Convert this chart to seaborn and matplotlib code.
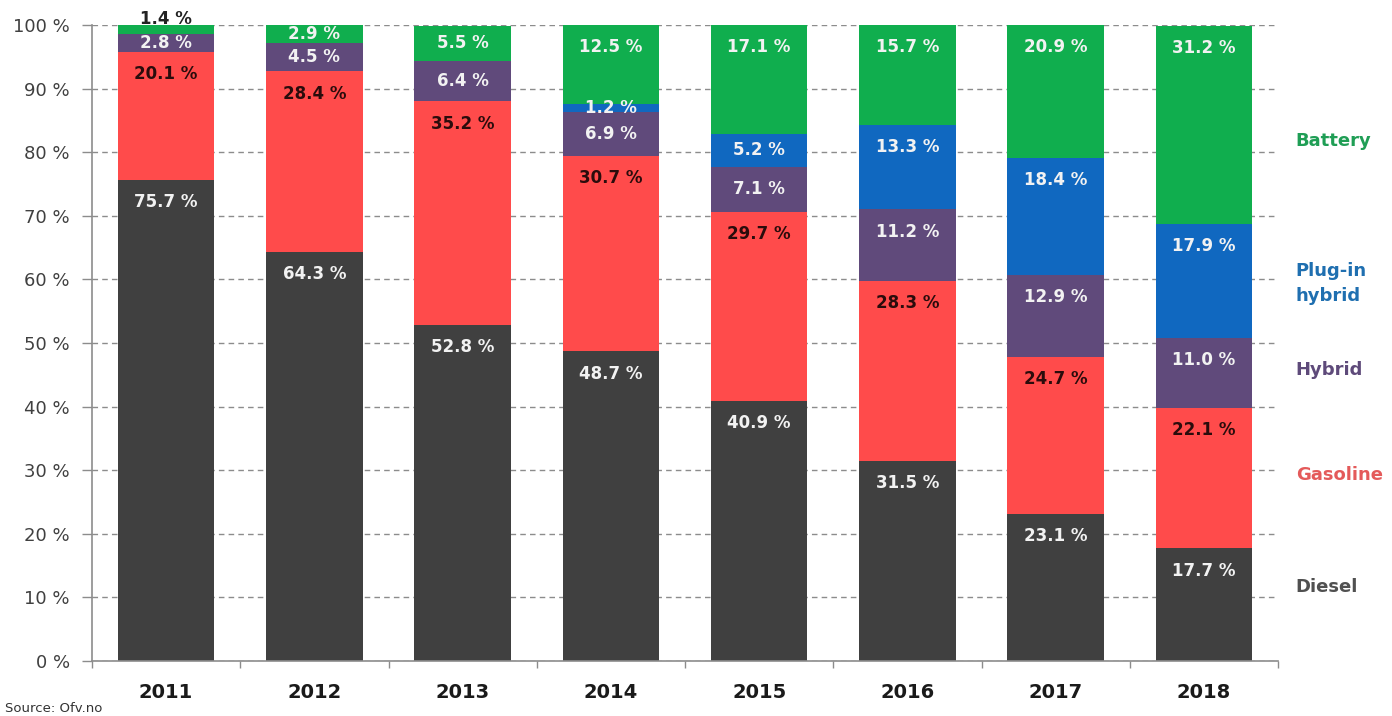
import numpy as np
import pandas as pd
import matplotlib
matplotlib.use('Agg')
import matplotlib.pyplot as plt
import seaborn as sns

# DATOS
years = ['2011', '2012', '2013', '2014', '2015', '2016', '2017', '2018']
diesel = [75.7, 64.3, 52.8, 48.7, 40.9, 31.5, 23.1, 17.7]
gasoline = [20.1, 28.4, 35.2, 30.7, 29.7, 28.3, 24.7, 22.1]
hybrid = [2.8, 4.5, 6.4, 6.9, 7.1, 11.2, 12.9, 11.0]
plugin = [0.0, 0.0, 0.0, 1.2, 5.2, 13.3, 18.4, 17.9]
battery = [1.4, 2.9, 5.5, 12.5, 17.1, 15.7, 20.9, 31.2]
series_names = ['Diesel', 'Gasoline', 'Hybrid', 'Plug-in\nhybrid', 'Battery']
y_ticks = list(range(0, 101, 10))

# ESTILO
bar_colors = ['#404040', '#ff4b4b', '#604a7b', '#1068c0', '#10ae4e']
label_colors = ['#f2f2f2', '#2a0c0c', '#f2f2f2', '#f2f2f2', '#f2f2f2']
legend_colors = ['#505050', '#e45a5a', '#5e4a7a', '#1f6fb0', '#1f9e55']
legend_y = [11.6, 29.2, 45.8, 59.4, 81.8]

sns.set_theme(style='white')
plt.rcParams['font.family'] = ['DejaVu Sans']

fig = plt.figure(figsize=(13.92, 7.16), dpi=100)
ax = fig.add_axes([92 / 1392, 55 / 716, (1278 - 92) / 1392, 636 / 716])

series = [diesel, gasoline, hybrid, plugin, battery]
bottom = np.zeros(len(years))
for vals, col, lcol in zip(series, bar_colors, label_colors):
    df = pd.DataFrame({'year': years, 'share': vals})
    sns.barplot(data=df, x='year', y='share', bottom=bottom, color=col,
                saturation=1, width=0.65, errorbar=None, ax=ax, zorder=2,
                linewidth=0, edgecolor=col)
    for i, v in enumerate(vals):
        if v <= 0:
            continue
        top = bottom[i] + v
        if v < 2 and top >= 99:
            ty, tc = 100.9, '#222222'
        else:
            ty, tc = top - min(3.5, v / 2), lcol
        ax.text(i, ty, f'{v:.1f} %', ha='center', va='center', fontsize=12,
                fontweight='bold', color=tc, zorder=4, clip_on=False)
    bottom = bottom + np.array(vals)

# leyenda a la derecha
for name, c, yy in zip(series_names, legend_colors, legend_y):
    ax.text(7.62, yy, name, ha='left', va='center', fontsize=13,
            fontweight='bold', color=c, clip_on=False, linespacing=1.5)

ax.set_xlim(-0.5, len(years) - 0.5)
ax.set_ylim(0, 100)
ax.set_yticks(y_ticks)
ax.set_yticklabels([f'{t} %' for t in y_ticks], fontsize=13, color='#404040')
ax.set_xlabel('')
ax.set_ylabel('')
ax.set_axisbelow(True)
ax.yaxis.grid(True, linestyle=(0, (4, 3)), color='#8c8c8c', lw=1)
ax.xaxis.grid(False)

ax.set_xticks(range(len(years)))
ax.set_xticklabels(years, fontsize=14, fontweight='bold', color='#1a1a1a')
ax.set_xticks(np.arange(-0.5, len(years), 1.0), minor=True)
ax.tick_params(axis='x', which='major', length=0, pad=16)
ax.tick_params(axis='x', which='minor', length=5, color='#8c8c8c', width=1,
               direction='out', bottom=True)
ax.tick_params(axis='y', length=7, color='#8c8c8c', width=1, pad=9, left=True)

for s in ['top', 'right']:
    ax.spines[s].set_visible(False)
for s in ['left', 'bottom']:
    ax.spines[s].set_color('#8c8c8c')
    ax.spines[s].set_linewidth(1.2)

fig.text(5 / 1392, 1 - 708 / 716, 'Source: Ofv.no', fontsize=9.5, color='#333333',
         ha='left', va='center')

fig.savefig('out.png', dpi=100)
